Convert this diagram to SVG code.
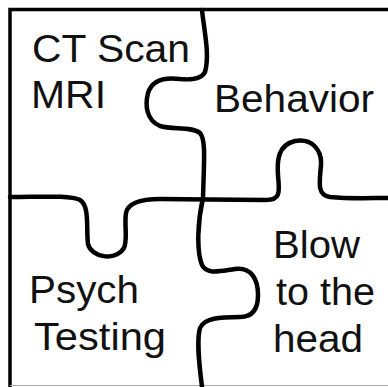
<svg xmlns="http://www.w3.org/2000/svg" width="388" height="387" viewBox="0 0 388 387">
<style>
.lbl{font-family:"Liberation Sans",Arial,sans-serif;font-size:38px;fill:#111}
.cut{fill:none;stroke:#000;stroke-width:4.5;stroke-linecap:round;stroke-linejoin:round}
.frame{fill:none;stroke:#000;stroke-width:3.5}
</style>
<rect width="388" height="387" fill="#fff"/>
<g id="frame">
<path class="frame" d="M10,387 L10,9.5 L388,9.5"/>
<line x1="10" y1="385.5" x2="388" y2="385.5" stroke="#aaa" stroke-width="1"/>
</g>
<g id="connectors">
<path class="cut" d="M202,10 C204,30 210,55 205,72 C201,80 190,80 180,79 C165,77 152,80 148,93 C145,105 146,120 160,126 C172,130 192,126 200,133 C206,140 204,160 203,198"/>
<path class="cut" d="M10,197 C40,197 70,195 80,200 C90,206 86,230 88,244 C91,257 115,262 124,248 C128,238 124,225 126,213 C128,203 140,199 160,199 C190,199 240,200 266,200 C282,200 279,190 278,175 C277,160 278,145 295,141 C312,138 322,150 321,165 C320,180 316,195 330,197 C350,199 370,198 388,198"/>
<path class="cut" d="M203,198 C198,220 196,250 202,265 C207,275 220,271 235,269 C252,267 258,280 258,295 C258,310 252,317 240,317 C220,317 204,318 200,328 C196,342 200,370 202,387"/>
</g>
<g id="piece-imaging">
<text class="lbl" x="32" y="62" textLength="158" lengthAdjust="spacingAndGlyphs">CT Scan</text>
<text class="lbl" x="31" y="108" textLength="75" lengthAdjust="spacingAndGlyphs">MRI</text>
</g>
<g id="piece-behavior">
<text class="lbl" x="214" y="112" textLength="160" lengthAdjust="spacingAndGlyphs">Behavior</text>
</g>
<g id="piece-psych">
<text class="lbl" x="29" y="303" textLength="110" lengthAdjust="spacingAndGlyphs">Psych</text>
<text class="lbl" x="34" y="350" textLength="132" lengthAdjust="spacingAndGlyphs">Testing</text>
</g>
<g id="piece-blow">
<text class="lbl" x="273" y="258" textLength="87" lengthAdjust="spacingAndGlyphs">Blow</text>
<text class="lbl" x="276" y="305" textLength="99" lengthAdjust="spacingAndGlyphs">to the</text>
<text class="lbl" x="273" y="352" textLength="90" lengthAdjust="spacingAndGlyphs">head</text>
</g>
</svg>
